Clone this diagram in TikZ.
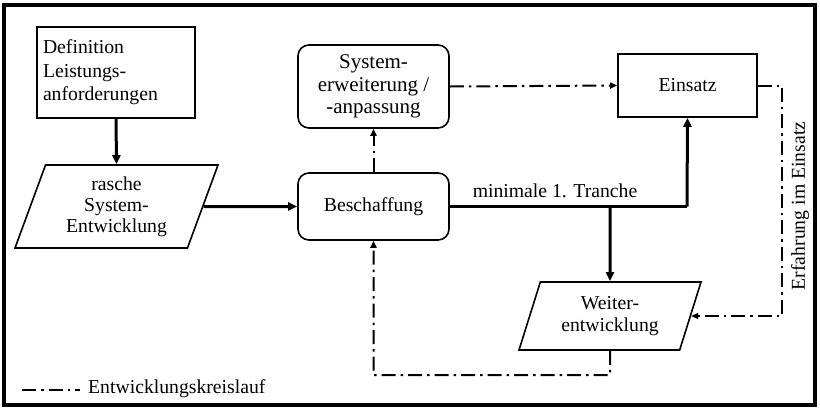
\documentclass[tikz,border=0pt]{standalone}
\usepackage{fontspec}
\setmainfont{Liberation Serif}
\usetikzlibrary{arrows.meta,shapes.geometric}
\tikzset{
  txt/.style={font=\fontsize{19.7}{22}\selectfont},
  box/.style={draw,line width=1.6pt,inner sep=2pt,align=center,txt},
  rbox/.style={box,rounded corners=11pt},
  para/.style={draw,line width=1.6pt,trapezium,trapezium stretches body,align=center,inner sep=0pt,txt},
  thickarrow/.style={line width=3pt,-{Triangle[length=9pt,width=8pt]}},
  thickline/.style={line width=3pt},
  dashdot/.style={line width=2pt,dash pattern=on 14pt off 5pt on 2.5pt off 5pt},
  ddarrow/.style={dashdot,-{Triangle[length=7pt,width=6pt]}},
}
\begin{document}
\begin{tikzpicture}[x=1pt,y=-1pt]
\useasboundingbox (0,0) rectangle (820,408);
\draw[line width=3.2pt] (4,5) rectangle (815,405);

\node[box,minimum width=158pt,minimum height=91pt,text width=146pt,align=left,
  font=\fontsize{19.7}{23.5}\selectfont] (def) at (116,72.5)
  {Definition\\Leistungs-\\anforderungen};

\node[para,trapezium left angle=63,trapezium right angle=117,minimum width=203pt,minimum height=83pt,
  font=\fontsize{19.7}{21}\selectfont] (rasche) at (116.5,206.5)
  {rasche\\System-\\Entwicklung};

\node[rbox,minimum width=151pt,minimum height=83pt,font=\fontsize{21}{22.5}\selectfont] (syst) at (373.5,86.5)
  {System-\\erweiterung /\\-anpassung};

\node[rbox,minimum width=151pt,minimum height=67pt] (besch) at (373.5,206.5)
  {Beschaffung};

\node[box,minimum width=139pt,minimum height=63pt] (einsatz) at (687.5,85.5)
  {Einsatz};

\node[para,trapezium left angle=61.5,trapezium right angle=118.5,minimum width=182pt,minimum height=68pt] (weiter) at (610,316)
  {Weiter-\\entwicklung};

\coordinate (corner) at (687,206.5);
\coordinate (branch) at (610,206.5);
\coordinate (erfc) at (782,85.5);
\coordinate (loopc) at (610,375);

\draw[thickarrow] (def.south) -- (rasche.north);
\draw[thickarrow] (rasche.east) -- (besch.west);
\draw[thickline] (besch.east) -- (corner);
\draw[thickarrow] (corner) -- (einsatz.south);
\draw[thickarrow] (branch) -- (weiter.north);
\node[txt,anchor=south,inner sep=0pt] (tranche) at (555,198) {minimale 1. Tranche};

\draw[ddarrow] (besch.north) -- (syst.south);
\draw[ddarrow] (syst.east) -- (einsatz.west);
\draw[ddarrow] (einsatz.east) -- (erfc) |- (weiter.east);
\node[txt,rotate=90,inner sep=0pt] (erf) at (800,206) {Erfahrung im Einsatz};
\draw[ddarrow] (weiter.south) -- (loopc) -| (besch.south);

\coordinate (lga) at (22,390);
\coordinate (lgb) at (80,390);
\draw[dashdot] (lga) -- (lgb);
\node[txt,anchor=west,inner sep=0pt] (leg) at (88,389) {Entwicklungskreislauf};
\end{tikzpicture}
\end{document}
